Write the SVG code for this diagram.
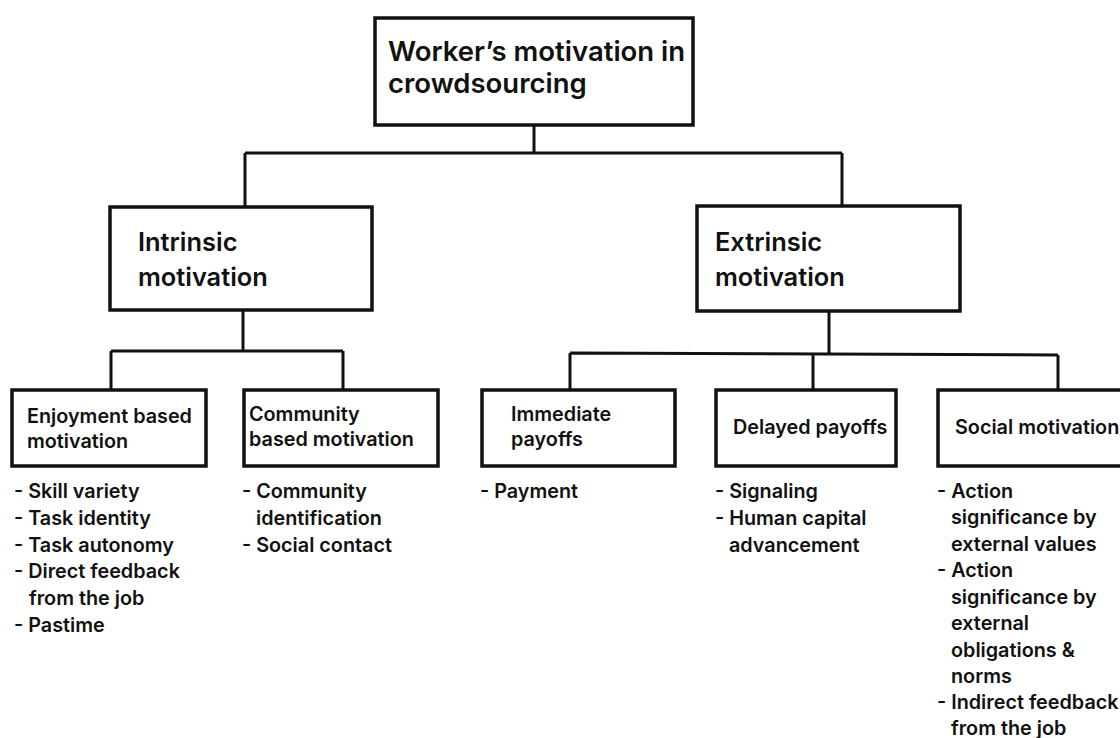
<svg xmlns="http://www.w3.org/2000/svg" width="1120" height="738" viewBox="0 0 1120 738">
  <style>
    .box { fill: #ffffff; stroke: #111111; stroke-width: 3.5; }
    .wire { fill: none; stroke: #111111; stroke-width: 3; stroke-linejoin: miter; }
    text { font-family: Inter, "Liberation Sans", sans-serif; font-weight: 600; fill: #111111; }
    .t1 { font-size: 27.5px; }
    .t2 { font-size: 25.4px; }
    .t3 { font-size: 19.8px; }
  </style>
  <rect width="1120" height="738" fill="#ffffff"/>

  <!-- connectors -->
  <g id="connectors" class="wire">
    <path d="M534 125 V153 M245 153 H842 M245 153 V207 M842 153 V206"/>
    <path d="M243 310 V351 M111 351 H343 M111 351 V390 M343 351 V390"/>
    <path d="M829 312 V353 M570 353 L1058 355 M570 353 V390 M813 354 V390 M1058 355 V390"/>
  </g>

  <!-- root -->
  <g id="root">
    <rect class="box" x="375" y="18" width="318" height="107"/>
    <text class="t1" x="388" y="61">Worker’s motivation in</text>
    <text class="t1" x="388" y="93">crowdsourcing</text>
  </g>

  <!-- level 2 -->
  <g id="intrinsic">
    <rect class="box" x="110" y="207" width="262" height="103"/>
    <text class="t2" x="138" y="251">Intrinsic</text>
    <text class="t2" x="138" y="286">motivation</text>
  </g>
  <g id="extrinsic">
    <rect class="box" x="697" y="206" width="263" height="105"/>
    <text class="t2" x="715" y="251">Extrinsic</text>
    <text class="t2" x="715" y="286">motivation</text>
  </g>

  <!-- level 3 -->
  <g id="enjoyment">
    <rect class="box" x="12" y="390" width="194" height="76"/>
    <text class="t3" x="27" y="423">Enjoyment based</text>
    <text class="t3" x="27" y="448">motivation</text>
    <text class="t3" x="14" y="498">- Skill variety</text>
    <text class="t3" x="14" y="525">- Task identity</text>
    <text class="t3" x="14" y="552">- Task autonomy</text>
    <text class="t3" x="14" y="578">- Direct feedback</text>
    <text class="t3" x="29" y="605">from the job</text>
    <text class="t3" x="14" y="632">- Pastime</text>
  </g>
  <g id="community">
    <rect class="box" x="244" y="390" width="194" height="76"/>
    <text class="t3" x="249" y="421">Community</text>
    <text class="t3" x="249" y="446">based motivation</text>
    <text class="t3" x="242" y="498">- Community</text>
    <text class="t3" x="256" y="525">identification</text>
    <text class="t3" x="242" y="552">- Social contact</text>
  </g>
  <g id="immediate">
    <rect class="box" x="482" y="390" width="193" height="76"/>
    <text class="t3" x="511" y="421">Immediate</text>
    <text class="t3" x="511" y="446">payoffs</text>
    <text class="t3" x="480" y="498">- Payment</text>
  </g>
  <g id="delayed">
    <rect class="box" x="716" y="390" width="180" height="76"/>
    <text class="t3" x="733" y="434">Delayed payoffs</text>
    <text class="t3" x="715" y="498">- Signaling</text>
    <text class="t3" x="715" y="525">- Human capital</text>
    <text class="t3" x="729" y="552">advancement</text>
  </g>
  <g id="social">
    <rect class="box" x="938" y="390" width="200" height="76"/>
    <text class="t3" x="955" y="434">Social motivation</text>
    <text class="t3" x="937" y="498">- Action</text>
    <text class="t3" x="951" y="524">significance by</text>
    <text class="t3" x="951" y="551">external values</text>
    <text class="t3" x="937" y="577">- Action</text>
    <text class="t3" x="951" y="604">significance by</text>
    <text class="t3" x="951" y="630">external</text>
    <text class="t3" x="951" y="657">obligations &amp;</text>
    <text class="t3" x="951" y="683">norms</text>
    <text class="t3" x="937" y="709">- Indirect feedback</text>
    <text class="t3" x="951" y="735">from the job</text>
  </g>
</svg>
